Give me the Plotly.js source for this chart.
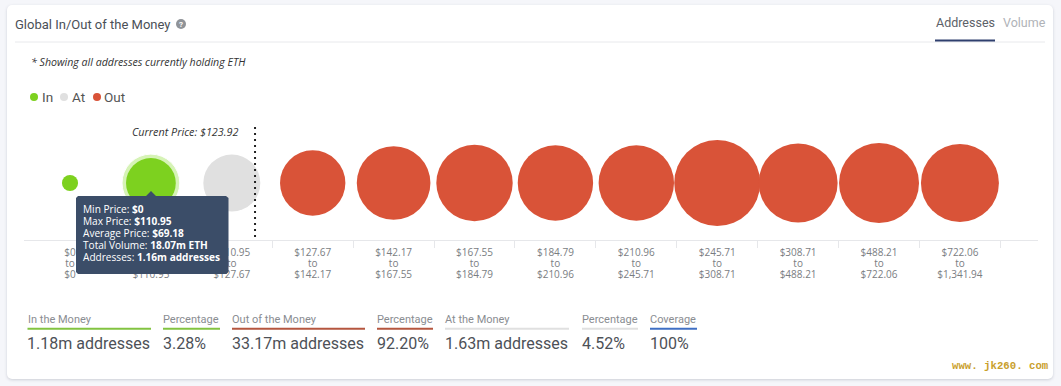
<!DOCTYPE html>
<html><head><meta charset="utf-8">
<script src="https://cdn.plot.ly/plotly-3.0.1.min.js"></script>
<style>
html,body{margin:0;padding:0;width:1061px;height:386px;overflow:hidden;background:#f5f6fa}
#card{position:absolute;left:7px;top:5px;width:1046px;height:374px;background:#fff;border-radius:5px;box-shadow:0 1px 3px rgba(60,70,90,.22)}
#chart{position:absolute;left:0;top:0;width:1061px;height:386px}
</style></head><body>
<div id="card"></div><div id="chart"></div>
<script>
const minPrice=["$0","$0","$110.95","$127.67","$142.17","$167.55","$184.79","$210.96","$245.71","$308.71","$488.21","$722.06"];
const maxPrice=["$0","$110.95","$127.67","$142.17","$167.55","$184.79","$210.96","$245.71","$308.71","$488.21","$722.06","$1,341.94"];
const addressesM=[0.02,1.16,1.63,2.28,3.03,3.30,3.20,3.20,4.34,3.57,3.67,3.46];
const status=["In","In","At","Out","Out","Out","Out","Out","Out","Out","Out","Out"];
const statusColor={In:"#7dd11f",At:"#e0e0e0",Out:"#d95338"};
const categories=minPrice.map((m,i)=>m+"<br>to<br>"+maxPrice[i]);
const W=1061,H=386;
const px=x=>x/W, py=y=>1-y/H;
const bubbleSize=v=>2*(5.5+18*Math.sqrt(v));
const sans="Roboto, sans-serif", open="'Open Sans', sans-serif";
function ann(x,y,text,size,color,o={}){return Object.assign({xref:"paper",yref:"paper",x:px(x),y:py(y),text,showarrow:false,xanchor:"left",yanchor:"middle",align:"left",font:{family:sans,size,color},borderpad:0},o);}
function line(x0,x1,y,color,w){return {type:"line",xref:"paper",yref:"paper",x0:px(x0),x1:px(x1),y0:py(y),y1:py(y),line:{color,width:w}};}
function dot(cx,cy,r,color){return {type:"circle",xref:"paper",yref:"paper",x0:px(cx-r),x1:px(cx+r),y0:py(cy+r),y1:py(cy-r),fillcolor:color,line:{width:0}};}
const stats=[
 ["In the Money","1.18m addresses",27.5,151,"#82c341"],
 ["Percentage","3.28%",163,220,"#82c341"],
 ["Out of the Money","33.17m addresses",232,365,"#b5563f"],
 ["Percentage","92.20%",377,433,"#b5563f"],
 ["At the Money","1.63m addresses",445,569,"#e0e0e0"],
 ["Percentage","4.52%",582,638,"#e0e0e0"],
 ["Coverage","100%",650,697,"#3f6fc4"]];
const tip=[["Min Price: ","$0"],["Max Price: ","$110.95"],["Average Price: ","$69.18"],["Total Volume: ","18.07m ETH"],["Addresses: ","1.16m addresses"]];
const annotations=[
 ann(14,24,"Global In/Out of the Money",13,"#4a4f57"),
 ann(935,23,"Addresses",12.5,"#5c6168"),
 ann(1002,23,"Volume",12.5,"#b0b3b8"),
 ann(181,24,"<b>?</b>",8,"#fff",{xanchor:"center"}),
 ann(30,62,"<i>* Showing all addresses currently holding ETH</i>",10.6,"#333",{font:{family:open,size:10.6,color:"#333"}}),
 ann(41,97,"In",13.5,"#555"),ann(71,97,"At",13.5,"#555"),ann(103,97,"Out",13.5,"#555"),
 ann(131,131,"<i>Current Price: $123.92</i>",10.8,"#333",{font:{family:open,size:10.8,color:"#333"}}),
 ann(951,366,"<b>www. jk260. com</b>",10.7,"#c9a02c",{font:{family:"'Liberation Mono', monospace",size:10.7,color:"#c9a02c"}})
];
stats.forEach(s=>{annotations.push(ann(s[2]-1,319,s[0],11,"#8a8d92"));annotations.push(ann(s[2]-1.5,343,s[1],16,"#4d5157"));});
tip.forEach((t,i)=>annotations.push(ann(81.5,209+12*i,t[0]+"<b>"+t[1]+"</b>",10.1,"#fff",{font:{family:open,size:10.1,color:"#fff"}})));
const shapes=[
 line(15,1045,42,"#e8e9ec",1),
 line(935,995,40.5,"#2f3f6e",2),
 dot(181,24,5,"#8f9398"),
 dot(34,97,4,statusColor.In),dot(64,97,4,statusColor.At),dot(97,97,4,statusColor.Out),
 {type:"line",xref:"x",yref:"paper",x0:2.287,x1:2.287,y0:py(237),y1:py(127),line:{color:"#222",width:2,dash:"2px,4px"}},
 {type:"path",xref:"paper",yref:"paper",path:[[76,198],[78,196],[146,196],[151,191],[156,196],[226,196],[228.5,198],[228.5,272],[226.5,274],[78,274],[76,272]].map((p,i)=>(i?"L":"M")+px(p[0])+","+py(p[1])).join(" ")+" Z",fillcolor:"#3b4d68",line:{width:0}}
];
stats.forEach(s=>shapes.push(line(s[2],s[3],328.7,s[4],2)));
const sizes=addressesM.map(bubbleSize);
const traces=[
 {type:"scatter",mode:"markers",name:"highlight",x:[categories[1]],y:[0],marker:{size:[sizes[1]+8],color:"#d6f3b6",opacity:1},hoverinfo:"skip",showlegend:false},
 {type:"scatter",mode:"markers",name:"Addresses",x:categories,y:categories.map(()=>0),marker:{size:sizes,color:status.map(s=>statusColor[s]),opacity:1,line:{width:0}},hoverinfo:"skip",showlegend:false}
];
const layout={width:W,height:H,margin:{l:0,r:0,t:0,b:0},paper_bgcolor:"rgba(0,0,0,0)",plot_bgcolor:"rgba(0,0,0,0)",showlegend:false,
 xaxis:{type:"category",categoryorder:"array",categoryarray:categories,domain:[24/W,1038/W],range:[-0.5686,11.965],tickson:"boundaries",ticks:"outside",ticklen:7,tickcolor:"#e6e7ea",tickwidth:1,ticklabelstandoff:3,showline:true,linecolor:"#e6e7ea",linewidth:1,showgrid:false,zeroline:false,tickangle:0,tickfont:{family:open,size:10,color:"#7a7d82"},fixedrange:true},
 yaxis:{domain:[py(240),py(126)],range:[-1,1],visible:false,fixedrange:true},
 annotations,shapes};
Plotly.newPlot("chart",traces,layout,{displayModeBar:false,staticPlot:true}).then(()=>{
 document.querySelectorAll(".xtick text tspan.line").forEach(t=>{const d=parseFloat(t.getAttribute("dy"));if(d)t.setAttribute("dy",(d*1.1/1.3)+"em");});
 const ticks=[...document.querySelectorAll("path.xtick.ticks, path.xtick")];
 const first=ticks.sort((a,b)=>a.getBoundingClientRect().left-b.getBoundingClientRect().left)[0];
 if(first)first.remove();
});
</script></body></html>
